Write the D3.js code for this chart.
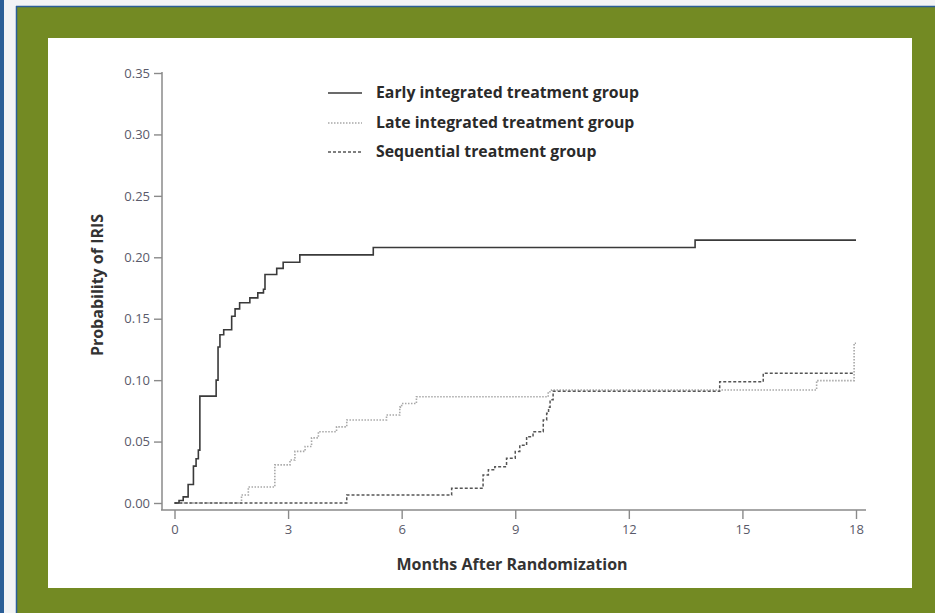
<!DOCTYPE html>
<html><head><meta charset="utf-8">
<script src="https://cdn.jsdelivr.net/npm/d3@7"></script>
<style>html,body{margin:0;padding:0;background:#f2f3f5;overflow:hidden}</style>
</head><body>
<script>
// ---- data ----
const seriesNames = ["Early integrated treatment group","Late integrated treatment group","Sequential treatment group"];
const earlyMonths = [0,0.12,0.23,0.36,0.50,0.57,0.63,0.67,1.07,1.10,1.15,1.20,1.30,1.51,1.60,1.72,1.99,2.20,2.35,2.39,2.70,2.87,3.31,5.25,13.75,18];
const earlyProb   = [0,0.002,0.005,0.015,0.030,0.036,0.043,0.087,0.087,0.100,0.127,0.137,0.141,0.152,0.158,0.163,0.167,0.171,0.174,0.186,0.191,0.196,0.202,0.208,0.214,0.214];
const lateMonths = [0,1.77,1.95,2.65,3.05,3.18,3.45,3.62,3.80,4.28,4.55,5.60,5.95,6.00,6.39,9.87,9.96,16.96,17.95,18];
const lateProb   = [0,0.0065,0.013,0.031,0.035,0.042,0.046,0.053,0.058,0.062,0.0676,0.0716,0.078,0.081,0.0865,0.0906,0.092,0.0996,0.130,0.130];
const seqMonths = [0,4.55,7.32,8.15,8.29,8.46,8.77,9.00,9.12,9.30,9.47,9.74,9.83,9.88,9.92,10.00,14.40,15.55,17.95];
const seqProb   = [0,0.0065,0.012,0.0228,0.027,0.0296,0.0364,0.042,0.047,0.054,0.058,0.0676,0.073,0.078,0.084,0.091,0.0987,0.1056,0.1056];
const xTicks = [0,3,6,9,12,15,18];
const yTicks = [0,0.05,0.10,0.15,0.20,0.25,0.30,0.35];

const W=935,H=613;
const svg=d3.select("body").append("svg").attr("width",W).attr("height",H);
// frame
svg.append("rect").attr("x",0).attr("y",0).attr("width",4).attr("height",H).attr("fill","#2b5e97");
svg.append("rect").attr("x",16).attr("y",6).attr("width",W-16).attr("height",H-6).attr("fill","#738a23");
svg.append("line").attr("x1",16.5).attr("x2",16.5).attr("y1",6).attr("y2",H).attr("stroke","#2b5e97").attr("stroke-width",1.5);
svg.append("line").attr("x1",16).attr("x2",W).attr("y1",6.5).attr("y2",6.5).attr("stroke","#2b5e97").attr("stroke-width",1.5);
svg.append("rect").attr("x",48).attr("y",38).attr("width",864).attr("height",550).attr("fill","#ffffff");

const x=d3.scaleLinear().domain([0,18]).range([174.5,856]);
const y=d3.scaleLinear().domain([0,0.35]).range([503,73]);
const font="'Open Sans', sans-serif";
const axisCol="#8a8a8a";
const yAxisX=162, xAxisY=510;

// y axis
const ya=svg.append("g").attr("transform",`translate(${yAxisX},0)`)
  .call(d3.axisLeft(y).tickValues(yTicks).tickFormat(d3.format(".2f")).tickSize(8).tickPadding(4).tickSizeOuter(0));
ya.select(".domain").remove();
svg.append("line").attr("x1",yAxisX).attr("x2",yAxisX).attr("y1",y(0.35)-1).attr("y2",xAxisY).attr("stroke",axisCol).attr("stroke-width",1.5);
// x axis
const xa=svg.append("g").attr("transform",`translate(0,${xAxisY})`)
  .call(d3.axisBottom(x).tickValues(xTicks).tickSize(9).tickPadding(6).tickSizeOuter(0));
xa.select(".domain").remove();
svg.append("line").attr("x1",yAxisX-1).attr("x2",866).attr("y1",xAxisY).attr("y2",xAxisY).attr("stroke",axisCol).attr("stroke-width",1.5);
svg.selectAll(".tick line").attr("stroke",axisCol).attr("stroke-width",1.4);
svg.selectAll(".tick text").attr("fill","#5a5a6a").style("font-family",font).style("font-size","13px");

// axis titles
svg.append("text").attr("x",512).attr("y",570).attr("text-anchor","middle")
  .style("font-family",font).style("font-weight","700").style("font-size","16px").attr("fill","#333")
  .text("Months After Randomization");
svg.append("text").attr("transform","translate(103,285) rotate(-90)").attr("text-anchor","middle")
  .style("font-family",font).style("font-weight","700").style("font-size","16px").attr("fill","#333")
  .text("Probability of IRIS");

// curves
const line=d3.line().x(d=>x(d[0])).y(d=>y(d[1])).curve(d3.curveStepAfter);
const styles=[
  {col:"#3a3a3a",w:1.6,dash:null},
  {col:"#a8a8a8",w:1.6,dash:"1.5,1.5"},
  {col:"#555555",w:1.5,dash:"3,2"}
];
const series=[
  d3.zip(lateMonths,lateProb),
  d3.zip(seqMonths,seqProb),
  d3.zip(earlyMonths,earlyProb)
];
const order=[1,2,0];
series.forEach((s,i)=>{
  const st=styles[order[i]];
  svg.append("path").attr("d",line(s)).attr("fill","none").attr("stroke",st.col)
    .attr("stroke-width",st.w).attr("stroke-dasharray",st.dash);
});

// legend
const legY=[93,123,152];
seriesNames.forEach((n,i)=>{
  const st=styles[i];
  svg.append("line").attr("x1",328).attr("x2",362).attr("y1",legY[i]).attr("y2",legY[i])
    .attr("stroke",st.col).attr("stroke-width",st.w).attr("stroke-dasharray",st.dash);
  svg.append("text").attr("x",376).attr("y",legY[i]+5)
    .style("font-family",font).style("font-weight","700").style("font-size","15.8px").attr("fill","#2a2a2a").text(n);
});
</script>
</body></html>
